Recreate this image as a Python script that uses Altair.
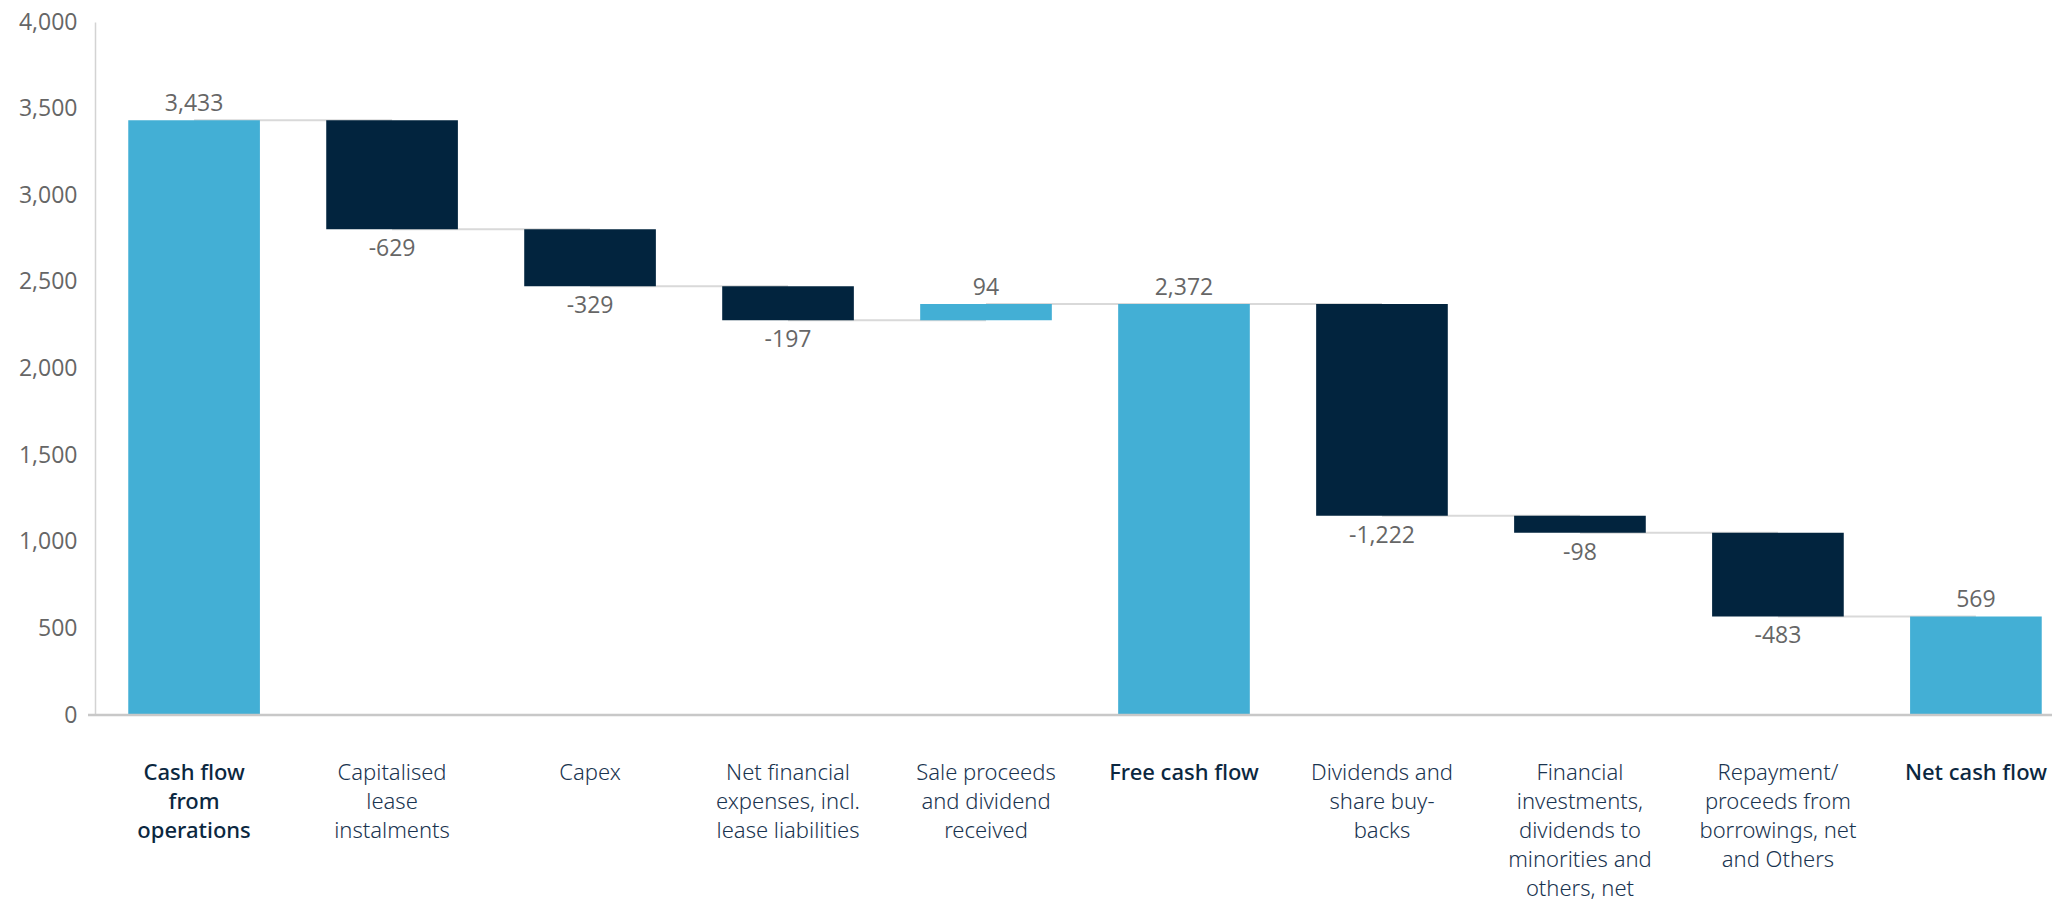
import altair as alt
import pandas as pd

categories = [
    "Cash flow from operations", "Capitalised lease instalments", "Capex",
    "Net financial expenses, incl. lease liabilities", "Sale proceeds and dividend received",
    "Free cash flow", "Dividends and share buy-backs",
    "Financial investments, dividends to minorities and others, net",
    "Repayment/proceeds from borrowings, net and Others", "Net cash flow",
]
axis_labels = [
    "Cash flow\nfrom\noperations", "Capitalised\nlease\ninstalments", "Capex",
    "Net financial\nexpenses, incl.\nlease liabilities", "Sale proceeds\nand dividend\nreceived",
    "Free cash flow", "Dividends and\nshare buy-\nbacks",
    "Financial\ninvestments,\ndividends to\nminorities and\nothers, net",
    "Repayment/\nproceeds from\nborrowings, net\nand Others", "Net cash flow",
]
amounts = [3433, -629, -329, -197, 94, 2372, -1222, -98, -483, 569]
is_total = [True, False, False, False, False, True, False, False, False, True]
y_ticks = [0, 500, 1000, 1500, 2000, 2500, 3000, 3500, 4000]

rows = []
level = 0
for i, (c, lab, a, t) in enumerate(zip(categories, axis_labels, amounts, is_total)):
    if t:
        start, end = 0, a
    else:
        start, end = level, level + a
    level = end
    rows.append({
        "cat": c, "label": lab, "amount": a, "start": start, "end": end,
        "top": max(start, end), "bottom": min(start, end),
        "kind": "down" if a < 0 else "up",
        "total": t,
        "next": categories[i + 1] if i + 1 < len(categories) else None,
        "vtext": f"{a:,}",
    })
df = pd.DataFrame(rows)

W, H = 1957, 693
BLUE, NAVY = "#43afd5", "#02243e"
xscale = alt.Scale(domain=categories, range=[0, 1980], paddingInner=0.335, paddingOuter=0.168)
yscale = alt.Scale(domain=[0, 4000], nice=False)

base = alt.Chart(df)

connectors = alt.Chart(df[df["next"].notna()]).mark_rule(color="#d9d9d9", strokeWidth=2).encode(
    x=alt.X("cat:N", scale=xscale, axis=None),
    x2="next:N",
    y=alt.Y("end:Q", scale=yscale),
)

bars = base.mark_bar().encode(
    x=alt.X("cat:N", scale=xscale, axis=None),
    y=alt.Y("start:Q", scale=yscale, title=None,
            axis=alt.Axis(values=y_ticks, labelExpr="format(datum.value, ',')", grid=False, ticks=False,
                          domainColor="#d3d3d3", domainWidth=1.5, labelFont="Open Sans",
                          labelFontSize=23, labelColor="#666666", labelPadding=18)),
    y2="end:Q",
    color=alt.Color("kind:N", scale=alt.Scale(domain=["up", "down"], range=[BLUE, NAVY]), legend=None),
)

val_up = base.transform_filter("datum.amount >= 0").mark_text(
    baseline="bottom", dy=-4, font="Open Sans", fontSize=23, color="#666666"
).encode(x=alt.X("cat:N", scale=xscale), y=alt.Y("top:Q", scale=yscale), text="vtext:N")

val_down = base.transform_filter("datum.amount < 0").mark_text(
    baseline="top", dy=9, font="Open Sans", fontSize=23, color="#666666"
).encode(x=alt.X("cat:N", scale=xscale), y=alt.Y("bottom:Q", scale=yscale), text="vtext:N")

xl_total = base.transform_filter("datum.total").mark_text(
    baseline="top", lineBreak="\n", lineHeight=29, font="Noto Sans", fontSize=22,
    fontWeight=500, color="#0b2740"
).encode(x=alt.X("cat:N", scale=xscale), y=alt.value(H + 48), text="label:N")

xl_other = base.transform_filter("!datum.total").mark_text(
    baseline="top", lineBreak="\n", lineHeight=29, font="Noto Sans", fontSize=22,
    fontWeight=300, color="#1a3450"
).encode(x=alt.X("cat:N", scale=xscale), y=alt.value(H + 48), text="label:N")

xaxis = alt.Chart(pd.DataFrame({"a": [0]})).mark_rule(color="#c8c8c8", strokeWidth=2.5).encode(
    x=alt.value(-7), x2=alt.value(W + 10), y=alt.value(H)
)

chart = alt.layer(connectors, bars, val_up, val_down, xl_total, xl_other, xaxis).properties(
    width=W, height=H,
    padding={"left": 95, "top": 22, "right": 0, "bottom": 185},
    autosize="none",
).configure_view(stroke=None)

chart.save("out.html", embed_options={"renderer": "svg", "actions": False})
